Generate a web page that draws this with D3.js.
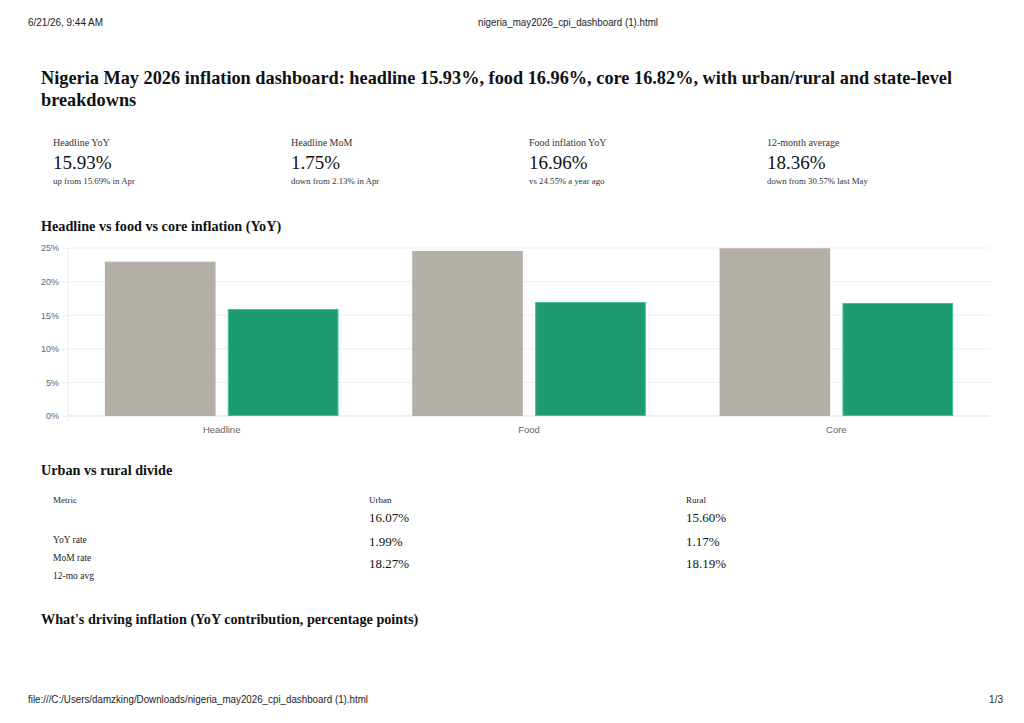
<!DOCTYPE html>
<html lang="en">
<head>
<meta charset="UTF-8">
<title>nigeria_may2026_cpi_dashboard (1).html</title>
<style>
  html, body { margin: 0; padding: 0; background: #fff; }
  svg { display: block; }
  .serif { font-family: "Liberation Serif", "Times New Roman", serif; }
  .sans { font-family: "Liberation Sans", Arial, sans-serif; }
</style>
</head>
<body>
<div id="page"></div>
<script src="https://cdn.jsdelivr.net/npm/d3@7"></script>
<script>
// data
const categories = ["Headline", "Food", "Core"]
const yearAgo = [22.97, 24.55, 24.96]
const mayNow = [15.93, 16.96, 16.82]
const yTicks = [0, 5, 10, 15, 20, 25]

const kpiLabels = ["Headline YoY", "Headline MoM", "Food inflation YoY", "12-month average"]
const kpiValues = ["15.93%", "1.75%", "16.96%", "18.36%"]
const kpiNotes = ["up from 15.69% in Apr", "down from 2.13% in Apr", "vs 24.55% a year ago", "down from 30.57% last May"]

const tableHeads = ["Metric", "Urban", "Rural"]
const metrics = ["YoY rate", "MoM rate", "12-mo avg"]
const urban = [16.07, 1.99, 18.27]
const rural = [15.60, 1.17, 18.19]

const W = 1024, H = 723
const svg = d3.select("#page").append("svg").attr("width", W).attr("height", H)
svg.append("rect").attr("width", W).attr("height", H).attr("fill", "#fff")

// print header / footer
const hf = svg.append("g").attr("class", "sans").attr("font-size", 10).attr("fill", "#222")
hf.append("text").attr("x", 28).attr("y", 26).attr("textLength", 75).attr("lengthAdjust", "spacingAndGlyphs").text("6/21/26, 9:44 AM")
hf.append("text").attr("x", 478).attr("y", 26).attr("textLength", 180).attr("lengthAdjust", "spacingAndGlyphs").text("nigeria_may2026_cpi_dashboard (1).html")
hf.append("text").attr("x", 28).attr("y", 703).attr("textLength", 340).attr("lengthAdjust", "spacingAndGlyphs").text("file:///C:/Users/damzking/Downloads/nigeria_may2026_cpi_dashboard (1).html")
hf.append("text").attr("x", 1003).attr("y", 703).attr("text-anchor", "end").text("1/3")

// title
const title = svg.append("text").attr("class", "serif").attr("font-size", 18.3).attr("font-weight", "bold").attr("fill", "#111")
title.append("tspan").attr("x", 41).attr("y", 84).attr("textLength", 911).attr("lengthAdjust", "spacingAndGlyphs")
  .text("Nigeria May 2026 inflation dashboard: headline 15.93%, food 16.96%, core 16.82%, with urban/rural and state-level")
title.append("tspan").attr("x", 41).attr("y", 106).text("breakdowns")

// KPI cards
const kpiX = d3.scaleBand().domain(d3.range(4)).range([53, 53 + 238 * 4])
const cards = svg.selectAll("g.kpi").data(kpiLabels).enter().append("g")
  .attr("class", "kpi serif").attr("transform", (d, i) => `translate(${kpiX(i)},0)`)
cards.append("text").attr("y", 146).attr("font-size", 10).attr("fill", "#333").text(d => d)
cards.append("text").attr("y", 169).attr("font-size", 19).attr("fill", "#111").text((d, i) => kpiValues[i])
cards.append("text").attr("y", 184).attr("font-size", 8.8).attr("fill", "#333").text((d, i) => kpiNotes[i])

// section headings
const heads = [["Headline vs food vs core inflation (YoY)", 231], ["Urban vs rural divide", 475], ["What's driving inflation (YoY contribution, percentage points)", 624]]
svg.selectAll("text.h2").data(heads).enter().append("text")
  .attr("class", "h2 serif").attr("x", 41).attr("y", d => d[1])
  .attr("font-size", 14.2).attr("font-weight", "bold").attr("fill", "#111").text(d => d[0])

// bar chart
const plot = { left: 68, right: 990, top: 248, bottom: 416 }
const x = d3.scaleBand().domain(categories).range([plot.left, plot.right])
const inner = d3.scaleBand().domain(["prev", "now"])
  .range([x.bandwidth() * 0.1, x.bandwidth() * 0.9]).paddingInner(0.1).paddingOuter(0.05)
const y = d3.scaleLinear().domain([0, 25]).range([plot.bottom, plot.top])

const chart = svg.append("g").attr("class", "sans")

const yAxis = chart.append("g").attr("transform", `translate(${plot.left},0)`)
  .call(d3.axisLeft(y).tickValues(yTicks).tickSize(6).tickPadding(3).tickFormat(d => d + "%"))
yAxis.select(".domain").remove()
yAxis.selectAll(".tick line").attr("stroke", "#ececec")
yAxis.selectAll(".tick text").attr("fill", "#666").attr("font-size", 9).attr("font-family", "Liberation Sans, Arial, sans-serif")

chart.append("g").selectAll("line").data(yTicks).enter().append("line")
  .attr("x1", plot.left).attr("x2", plot.right)
  .attr("y1", d => y(d)).attr("y2", d => y(d))
  .attr("stroke", d => d === 0 ? "#dedede" : "#efefef")
chart.append("line").attr("x1", plot.left).attr("x2", plot.left)
  .attr("y1", plot.top).attr("y2", plot.bottom + 6).attr("stroke", "#ececec")

const groups = chart.selectAll("g.cat").data(categories).enter().append("g")
  .attr("class", "cat").attr("transform", d => `translate(${x(d)},0)`)
groups.append("rect")
  .attr("x", inner("prev")).attr("width", inner.bandwidth())
  .attr("y", (d, i) => y(yearAgo[i])).attr("height", (d, i) => y(0) - y(yearAgo[i]))
  .attr("fill", "#b4b0a8")
groups.append("rect")
  .attr("x", inner("now") + 0.5).attr("width", inner.bandwidth() - 1)
  .attr("y", (d, i) => y(mayNow[i]) + 0.5).attr("height", (d, i) => y(0) - y(mayNow[i]) - 1)
  .attr("fill", "#1f9b74").attr("stroke", "#3fc196").attr("stroke-width", 1)

const xAxis = chart.append("g").attr("transform", `translate(0,${plot.bottom})`)
  .call(d3.axisBottom(x).tickSize(0).tickPadding(10))
xAxis.select(".domain").remove()
xAxis.selectAll(".tick text").attr("fill", "#666").attr("font-size", 9.5).attr("font-family", "Liberation Sans, Arial, sans-serif")

// urban vs rural table
const colX = [53, 369, 686]
const tbl = svg.append("g").attr("class", "serif").attr("fill", "#222")
tbl.selectAll("text.th").data(tableHeads).enter().append("text")
  .attr("class", "th").attr("x", (d, i) => colX[i]).attr("y", 503).attr("font-size", 9).text(d => d)
const labelY = [543, 561, 579]
tbl.selectAll("text.metric").data(metrics).enter().append("text")
  .attr("class", "metric").attr("x", colX[0]).attr("y", (d, i) => labelY[i]).attr("font-size", 9.5).text(d => d)
const valueY = [522, 546, 568]
tbl.selectAll("text.urban").data(urban).enter().append("text")
  .attr("class", "urban").attr("x", colX[1]).attr("y", (d, i) => valueY[i]).attr("font-size", 13).attr("fill", "#111")
  .text(d => d.toFixed(2) + "%")
tbl.selectAll("text.rural").data(rural).enter().append("text")
  .attr("class", "rural").attr("x", colX[2]).attr("y", (d, i) => valueY[i]).attr("font-size", 13).attr("fill", "#111")
  .text(d => d.toFixed(2) + "%")
</script>
</body>
</html>
